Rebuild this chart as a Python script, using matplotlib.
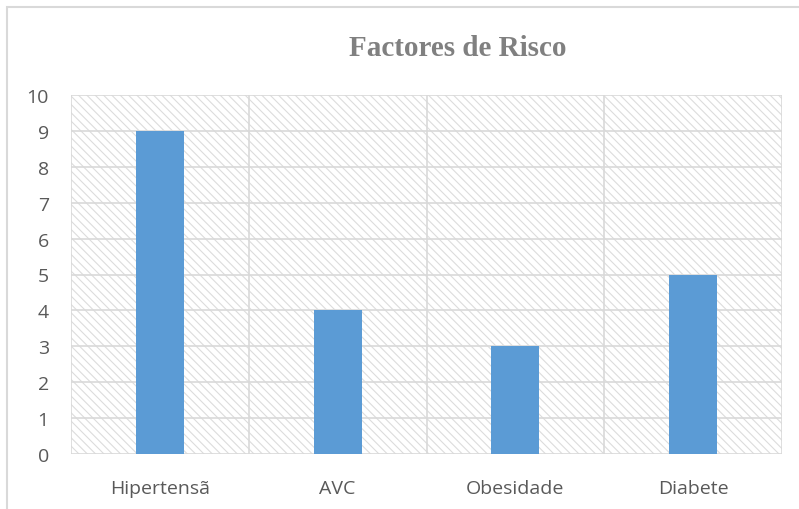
import matplotlib.pyplot as plt
from matplotlib.patches import Rectangle

categories = ["Hipertensã", "AVC", "Obesidade", "Diabete"]
values = [9, 4, 3, 5]
yticks = list(range(0, 11))

grid_color = "#d9d9d9"
bar_color = "#5b9bd5"
text_color = "#595959"

plt.rcParams["hatch.linewidth"] = 0.8

fig = plt.figure(figsize=(7.99, 5.10), dpi=100)

# outer chart border (runs off the bottom/right edge like the original)
fig.patches.append(Rectangle((7 / 799, -0.1), 1.2, (510 - 8) / 510 + 0.1,
                             transform=fig.transFigure, fill=False,
                             edgecolor=grid_color, linewidth=1.5))

ax = fig.add_axes([71 / 799, 1 - 455 / 510, (782 - 71) / 799, (455 - 96) / 510])

# hatched plot area
ax.add_patch(Rectangle((0, 0), 1, 1, transform=ax.transAxes, facecolor="none",
                       edgecolor="#dcdcdc", hatch="\\\\\\\\", linewidth=0, zorder=0))

x = range(len(categories))
ax.bar(x, values, width=0.27, color=bar_color, zorder=3)

ax.set_xlim(-0.5, len(categories) - 0.5)
ax.set_ylim(0, 10)

for y in yticks:
    ax.axhline(y, color=grid_color, linewidth=1.2, zorder=1)
for b in [i - 0.5 for i in range(len(categories) + 1)]:
    ax.axvline(b, color=grid_color, linewidth=1.2, zorder=1)

for s in ax.spines.values():
    s.set_visible(False)

ax.set_yticks(yticks)
ax.set_yticklabels([str(v) for v in yticks])
ax.set_xticks(list(x))
ax.set_xticklabels(categories)
ax.tick_params(axis="both", length=0, labelsize=14, labelcolor=text_color)
ax.tick_params(axis="y", pad=16)
ax.tick_params(axis="x", pad=18)
for lab in ax.get_xticklabels() + ax.get_yticklabels():
    lab.set_fontfamily("Open Sans")

fig.text(458 / 799, 1 - 48 / 510, "Factores de Risco", ha="center", va="center",
         fontsize=21, fontweight="bold", color="#808080", family="Liberation Serif")

plt.savefig("out.png")
